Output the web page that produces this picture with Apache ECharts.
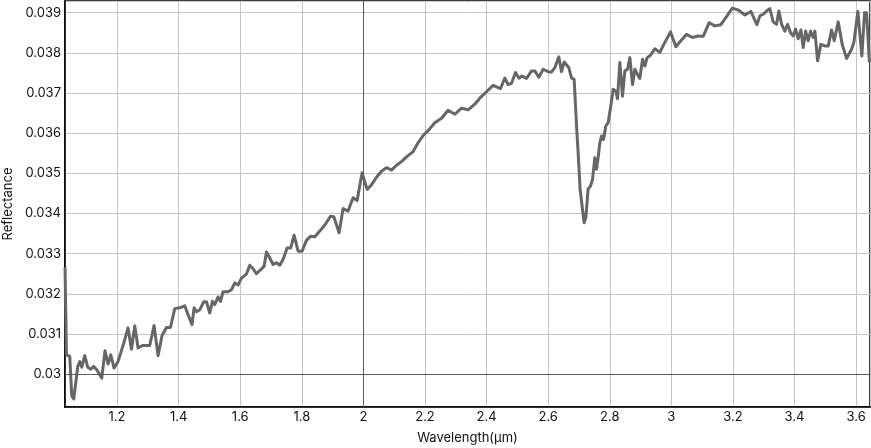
<!DOCTYPE html>
<html>
<head>
<meta charset="utf-8">
<script src="https://cdn.jsdelivr.net/npm/echarts@6/dist/echarts.min.js"></script>
<style>
html,body{margin:0;padding:0;background:#fff;}
#chart{width:871px;height:448px;}
</style>
</head>
<body>
<div id="chart"></div>
<script>
const wavelength = [
1.0311,1.0357,1.0464,1.0529,1.0594,1.0724,1.0789,1.0854,1.0951,1.1048,
1.1146,1.1243,1.1341,1.1503,1.1610,1.1708,1.1795,1.1903,1.2032,1.2218,
1.2357,1.2468,1.2575,1.2682,1.2825,1.3062,1.3202,1.3332,1.3462,1.3604,
1.3734,1.3874,1.4036,1.4199,1.4306,1.4436,1.4501,1.4579,1.4686,1.4816,
1.4904,1.5011,1.5098,1.5173,1.5280,1.5358,1.5443,1.5605,1.5716,1.5823,
1.5930,1.6040,1.6203,1.6310,1.6417,1.6527,1.6635,1.6774,1.6852,1.6959,
1.7067,1.7177,1.7284,1.7391,1.7521,1.7641,1.7749,1.7879,1.8009,1.8151,
1.8281,1.8421,1.8583,1.8746,1.8931,1.9038,1.9210,1.9340,1.9502,1.9665,
1.9795,1.9957,2.0120,2.0262,2.0425,2.0587,2.0750,2.0912,2.1074,2.1237,
2.1399,2.1614,2.1776,2.1938,2.2123,2.2318,2.2536,2.2750,2.2968,2.3185,
2.3400,2.3617,2.3780,2.3997,2.4212,2.4452,2.4592,2.4699,2.4809,2.4939,
2.5046,2.5154,2.5296,2.5459,2.5566,2.5696,2.5836,2.5998,2.6108,2.6216,
2.6345,2.6433,2.6518,2.6670,2.6758,2.6843,2.6921,2.6973,2.7037,2.7102,
2.7167,2.7222,2.7297,2.7375,2.7440,2.7515,2.7570,2.7622,2.7677,2.7733,
2.7797,2.7872,2.7947,2.8035,2.8109,2.8197,2.8252,2.8327,2.8415,2.8490,
2.8577,2.8652,2.8739,2.8814,2.8902,2.8976,2.9064,2.9139,2.9213,2.9324,
2.9463,2.9626,2.9788,2.9973,3.0146,3.0308,3.0493,3.0688,3.0870,3.1032,
3.1227,3.1412,3.1607,3.1792,3.1974,3.2169,3.2387,3.2582,3.2777,3.2874,
3.2981,3.3091,3.3198,3.3306,3.3416,3.3491,3.3579,3.3686,3.3773,3.3871,
3.3956,3.4034,3.4118,3.4206,3.4281,3.4359,3.4443,3.4521,3.4606,3.4661,
3.4748,3.4855,3.4985,3.5093,3.5203,3.5288,3.5418,3.5548,3.5689,3.5852,
3.5927,3.6056,3.6186,3.6274,3.6339,3.6430
];
const reflectance = [
0.03266,0.03048,0.03044,0.02946,0.02938,0.03019,0.03031,0.03017,0.03046,0.03017,
0.03012,0.03019,0.03011,0.02990,0.03058,0.03025,0.03048,0.03015,0.03031,0.03077,
0.03115,0.03062,0.03120,0.03065,0.03071,0.03071,0.03121,0.03046,0.03096,0.03116,
0.03116,0.03163,0.03165,0.03170,0.03148,0.03123,0.03165,0.03155,0.03160,0.03180,
0.03180,0.03152,0.03181,0.03173,0.03192,0.03181,0.03205,0.03205,0.03210,0.03227,
0.03222,0.03239,0.03249,0.03271,0.03262,0.03250,0.03258,0.03268,0.03304,0.03289,
0.03273,0.03277,0.03271,0.03285,0.03314,0.03314,0.03346,0.03306,0.03306,0.03333,
0.03343,0.03342,0.03356,0.03371,0.03393,0.03392,0.03352,0.03412,0.03406,0.03439,
0.03432,0.03501,0.03460,0.03471,0.03490,0.03505,0.03514,0.03508,0.03520,0.03529,
0.03541,0.03554,0.03576,0.03594,0.03608,0.03626,0.03637,0.03657,0.03647,0.03662,
0.03658,0.03672,0.03687,0.03703,0.03719,0.03711,0.03737,0.03721,0.03724,0.03751,
0.03737,0.03742,0.03736,0.03755,0.03755,0.03739,0.03759,0.03753,0.03752,0.03763,
0.03790,0.03753,0.03777,0.03763,0.03737,0.03734,0.03618,0.03551,0.03460,0.03418,
0.03377,0.03389,0.03461,0.03468,0.03485,0.03539,0.03510,0.03539,0.03576,0.03593,
0.03584,0.03618,0.03626,0.03668,0.03709,0.03705,0.03686,0.03776,0.03692,0.03755,
0.03759,0.03788,0.03721,0.03759,0.03746,0.03736,0.03784,0.03767,0.03788,0.03794,
0.03810,0.03801,0.03826,0.03852,0.03815,0.03830,0.03846,0.03838,0.03842,0.03841,
0.03875,0.03867,0.03870,0.03890,0.03911,0.03907,0.03894,0.03903,0.03870,0.03892,
0.03896,0.03904,0.03910,0.03877,0.03871,0.03904,0.03871,0.03854,0.03871,0.03850,
0.03842,0.03859,0.03835,0.03857,0.03813,0.03854,0.03830,0.03854,0.03838,0.03854,
0.03780,0.03821,0.03817,0.03817,0.03857,0.03830,0.03877,0.03821,0.03786,0.03809,
0.03826,0.03903,0.03792,0.03900,0.03900,0.03776
];
const xRange = [1.031, 3.645];
const yRange = [0.02918, 0.03929];
const emphasisX = [2];
const emphasisY = [0.03];

const seriesData = wavelength.map((w, i) => [w, reflectance[i]]);
const FONT = 'Inter, "Liberation Sans", sans-serif';

const chart = echarts.init(document.getElementById('chart'), null, {renderer: 'canvas'});
chart.setOption({
  animation: false,
  backgroundColor: '#fff',
  grid: {left: 65, right: 1, top: 1, bottom: 41, show: true, borderColor: '#000', borderWidth: 1.5, containLabel: false, outerBoundsMode: 'none'},
  xAxis: {
    type: 'value', min: xRange[0], max: xRange[1], splitNumber: 13, minInterval: 0.2, maxInterval: 0.2,
    name: 'Wavelength(\u03bcm)', nameLocation: 'middle', nameGap: 25,
    nameTextStyle: {color: '#111', fontSize: 13, fontFamily: FONT},
    axisLine: {show: true, lineStyle: {color: '#000', width: 1.5}},
    axisTick: {show: false},
    axisLabel: {color: '#111', fontSize: 13, fontFamily: FONT, margin: 4, showMinLabel: false, showMaxLabel: false},
    splitLine: {show: true, lineStyle: {color: '#c4c4c4', width: 1}}
  },
  yAxis: {
    type: 'value', min: yRange[0], max: yRange[1], splitNumber: 10, minInterval: 0.001, maxInterval: 0.001,
    name: 'Reflectance', nameLocation: 'middle', nameGap: 49,
    nameTextStyle: {color: '#111', fontSize: 13, fontFamily: FONT},
    axisLine: {show: true, lineStyle: {color: '#000', width: 1.5}},
    axisTick: {show: false},
    axisLabel: {color: '#111', fontSize: 13, fontFamily: FONT, margin: 4, showMinLabel: false, showMaxLabel: false},
    splitLine: {show: true, lineStyle: {color: '#c4c4c4', width: 1}}
  },
  series: [
    {
      type: 'line', data: [], z: 1, silent: true,
      markLine: {
        silent: true, symbol: 'none', label: {show: false},
        lineStyle: {color: '#5a5a5a', width: 1, type: 'solid'},
        data: emphasisX.map(v => ({xAxis: v})).concat(emphasisY.map(v => ({yAxis: v})))
      }
    },
    {
      type: 'line', data: seriesData, z: 3, showSymbol: false, smooth: false,
      lineStyle: {color: '#666666', width: 3, join: 'round'}
    }
  ]
});
</script>
</body>
</html>
